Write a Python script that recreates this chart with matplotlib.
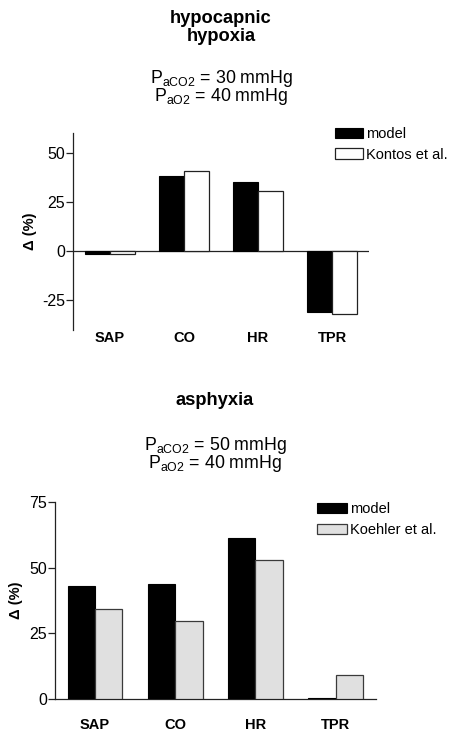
import matplotlib
matplotlib.use("Agg")
import matplotlib.pyplot as plt
import numpy as np

plt.rcParams['font.family'] = ['Liberation Sans', 'DejaVu Sans']
plt.rcParams['mathtext.fontset'] = 'custom'
plt.rcParams['mathtext.rm'] = 'Liberation Sans'
plt.rcParams['axes.unicode_minus'] = False

categories = ['SAP', 'CO', 'HR', 'TPR']

# hypocapnic hypoxia
hypo_model = [-1.5, 38.2, 35.1, -31.1]
hypo_kontos = [-1.2, 40.9, 30.8, -31.9]

# asphyxia
asph_model = [43.0, 43.9, 61.3, 0.6]
asph_koehler = [34.1, 29.6, 52.8, 9.2]

W, H = 450, 734
fig = plt.figure(figsize=(W / 100, H / 100), dpi=100)

def fx(px):
    return px / W

def fy(py):
    return 1 - py / H

line_c = '#222222'
bw = 0.34
x = np.arange(len(categories))

def style_axes(ax):
    for s in ['top', 'right']:
        ax.spines[s].set_visible(False)
    ax.spines['left'].set_linewidth(0.9)
    ax.spines['left'].set_color(line_c)
    ax.spines['bottom'].set_linewidth(0.9)
    ax.spines['bottom'].set_color(line_c)
    ax.tick_params(axis='y', direction='out', length=5, width=0.9, color=line_c,
                   labelsize=11.5, pad=0.5)
    ax.tick_params(axis='x', length=0, labelsize=10.5)
    ax.set_xticks(x)
    ax.set_xticklabels(categories, fontweight='bold')
    ax.set_xlim(-0.5, 3.5)
    ax.set_ylabel('Δ (%)', fontsize=10.5, fontweight='bold')

# ---- top panel ----
ax1 = fig.add_axes([fx(73), fy(330), fx(369) - fx(73), fy(133) - fy(330)])
ax1.bar(x - bw / 2, hypo_model, bw, color='black', edgecolor='black', linewidth=0.8,
        label='model', zorder=3)
ax1.bar(x + bw / 2, hypo_kontos, bw, color='white', edgecolor=line_c, linewidth=0.9,
        label='Kontos et al.', zorder=3)
ax1.set_ylim(-40, 60)
ax1.set_yticks([-25, 0, 25, 50])
style_axes(ax1)
ax1.spines['bottom'].set_visible(False)
ax1.axhline(0, color=line_c, linewidth=0.9, zorder=2)
ax1.tick_params(axis='x', pad=1)
ax1.yaxis.set_label_coords(-0.1216, 0.5)
ax1.legend(loc='upper left', bbox_to_anchor=(fx(335), fy(127)), bbox_transform=fig.transFigure,
           frameon=False, fontsize=10.5, handlelength=1.95, handleheight=0.7,
           handletextpad=0.2, labelspacing=0.45, borderpad=0, borderaxespad=0)

# ---- bottom panel ----
ax2 = fig.add_axes([fx(55), fy(699.3), fx(375.7) - fx(55), fy(501.7) - fy(699.3)])
ax2.bar(x - bw / 2, asph_model, bw, color='black', edgecolor='black', linewidth=0.8,
        label='model', zorder=3)
ax2.bar(x + bw / 2, asph_koehler, bw, color='#e0e0e0', edgecolor='#3a3a3a', linewidth=0.9,
        label='Koehler et al.', zorder=3)
ax2.set_ylim(0, 75)
ax2.set_yticks([0, 25, 50, 75])
style_axes(ax2)
ax2.tick_params(axis='x', pad=13.5)
ax2.yaxis.set_label_coords(-0.0988, 0.5)
ax2.legend(loc='upper left', bbox_to_anchor=(fx(317), fy(502)), bbox_transform=fig.transFigure,
           frameon=False, fontsize=10.5, handlelength=2.05, handleheight=0.65,
           handletextpad=0.2, labelspacing=0.5, borderpad=0, borderaxespad=0)

# ---- titles ----
tsize = 13.2
psize = 12.8
fig.text(fx(221), fy(9.6), 'hypocapnic\nhypoxia', ha='center', va='top', fontsize=tsize,
         fontweight='bold', linespacing=1.1, multialignment='center')
fig.text(fx(221), fy(67.8), 'P$_{\\mathrm{aCO2}}$ = 30 mmHg\nP$_{\\mathrm{aO2}}$ = 40 mmHg',
         ha='center', va='top', fontsize=psize, linespacing=0.8, multialignment='center')

fig.text(fx(215), fy(405), 'asphyxia', ha='center', va='baseline', fontsize=tsize,
         fontweight='bold')
fig.text(fx(215), fy(435), 'P$_{\\mathrm{aCO2}}$ = 50 mmHg\nP$_{\\mathrm{aO2}}$ = 40 mmHg',
         ha='center', va='top', fontsize=psize, linespacing=0.8, multialignment='center')

fig.savefig('out.png', dpi=100)
